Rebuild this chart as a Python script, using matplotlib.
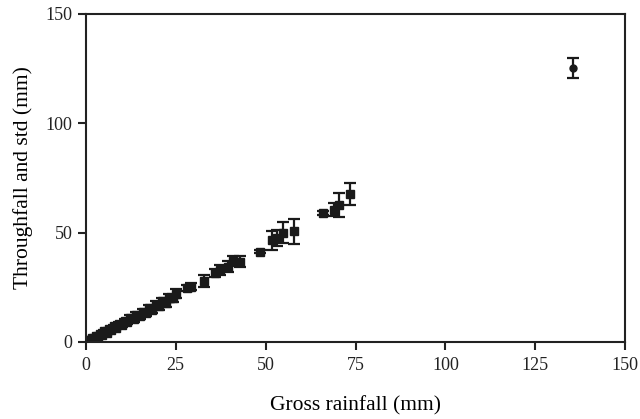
import matplotlib
matplotlib.use("Agg")
import matplotlib.pyplot as plt
import numpy as np

plt.rcParams['font.family'] = ['Liberation Serif', 'DejaVu Serif']

# gross rainfall (mm), throughfall (mm), std (mm)
gross = [0.3, 0.8, 1.2, 1.7, 2.2, 2.8, 3.3, 3.9, 4.5, 5.2, 5.8, 6.4, 7.1, 7.8,
         8.5, 9.2, 10.0, 10.8, 11.6, 12.4, 13.3, 14.1, 15.0, 15.9, 16.8, 17.6,
         18.5, 19.4, 20.3, 21.2, 22.2, 23.1, 24.2, 25.0, 28.1, 29.3, 33.0,
         35.8, 37.3, 39.6, 41.0, 42.9, 48.5, 51.7, 53.1, 54.9, 58.0, 66.0,
         68.9, 70.4, 73.4]
through = [0.2, 0.9, 0.7, 1.7, 1.4, 2.7, 2.2, 3.6, 3.3, 4.9, 4.2, 5.8, 5.5, 7.1,
           6.5, 8.3, 7.6, 9.6, 9.0, 11.0, 10.3, 12.4, 11.8, 13.9, 13.2, 15.4,
           14.8, 17.0, 16.2, 18.5, 17.8, 20.0, 20.0, 22.0, 24.7, 25.3, 28.0,
           31.5, 33.0, 34.3, 37.0, 36.6, 41.3, 46.4, 47.5, 50.0, 50.5, 59.0,
           60.4, 62.5, 67.8]
std = [0.1, 0.2, 0.2, 0.3, 0.3, 0.4, 0.4, 0.5, 0.5, 0.6, 0.6, 0.7, 0.7, 0.8,
       0.8, 0.9, 0.9, 1.0, 1.0, 1.1, 1.1, 1.2, 1.3, 1.3, 1.4, 1.5, 1.5, 1.6,
       1.7, 1.7, 1.8, 1.8, 1.9, 2.0, 1.5, 1.5, 2.8, 2.0, 2.2, 2.5, 2.3, 2.5,
       0.5, 4.5, 3.5, 5.0, 5.8, 1.0, 3.0, 5.5, 5.0]

# single large event
big_gross = [135.6]
big_through = [125.3]
big_std = [4.6]

fig = plt.figure(figsize=(6.4, 4.19), dpi=100)
ax = fig.add_axes([0.134, 0.184, 0.843, 0.783])

ax.errorbar(gross, through, yerr=std, fmt='s', color='#1a1a1a', ms=5.5,
            elinewidth=1.6, capsize=4, capthick=1.6)
ax.errorbar(big_gross, big_through, yerr=big_std, fmt='o', color='#1a1a1a',
            ms=5, elinewidth=1.6, capsize=4, capthick=1.6)

ax.set_xlim(0, 150)
ax.set_ylim(0, 150)
ax.set_xticks([0, 25, 50, 75, 100, 125, 150])
ax.set_yticks([0, 50, 100, 150])
for s in ax.spines.values():
    s.set_linewidth(1.5)
    s.set_color('#222222')
ax.tick_params(direction='out', length=6, width=1.5, labelsize=13, colors='#222222')
ax.tick_params(axis='x', pad=5)

ax.set_xlabel("Gross rainfall (mm)", fontsize=15.5, labelpad=16)
ax.set_ylabel("Throughfall and std (mm)", fontsize=15.5, labelpad=9)

fig.savefig("out.png", dpi=100)
